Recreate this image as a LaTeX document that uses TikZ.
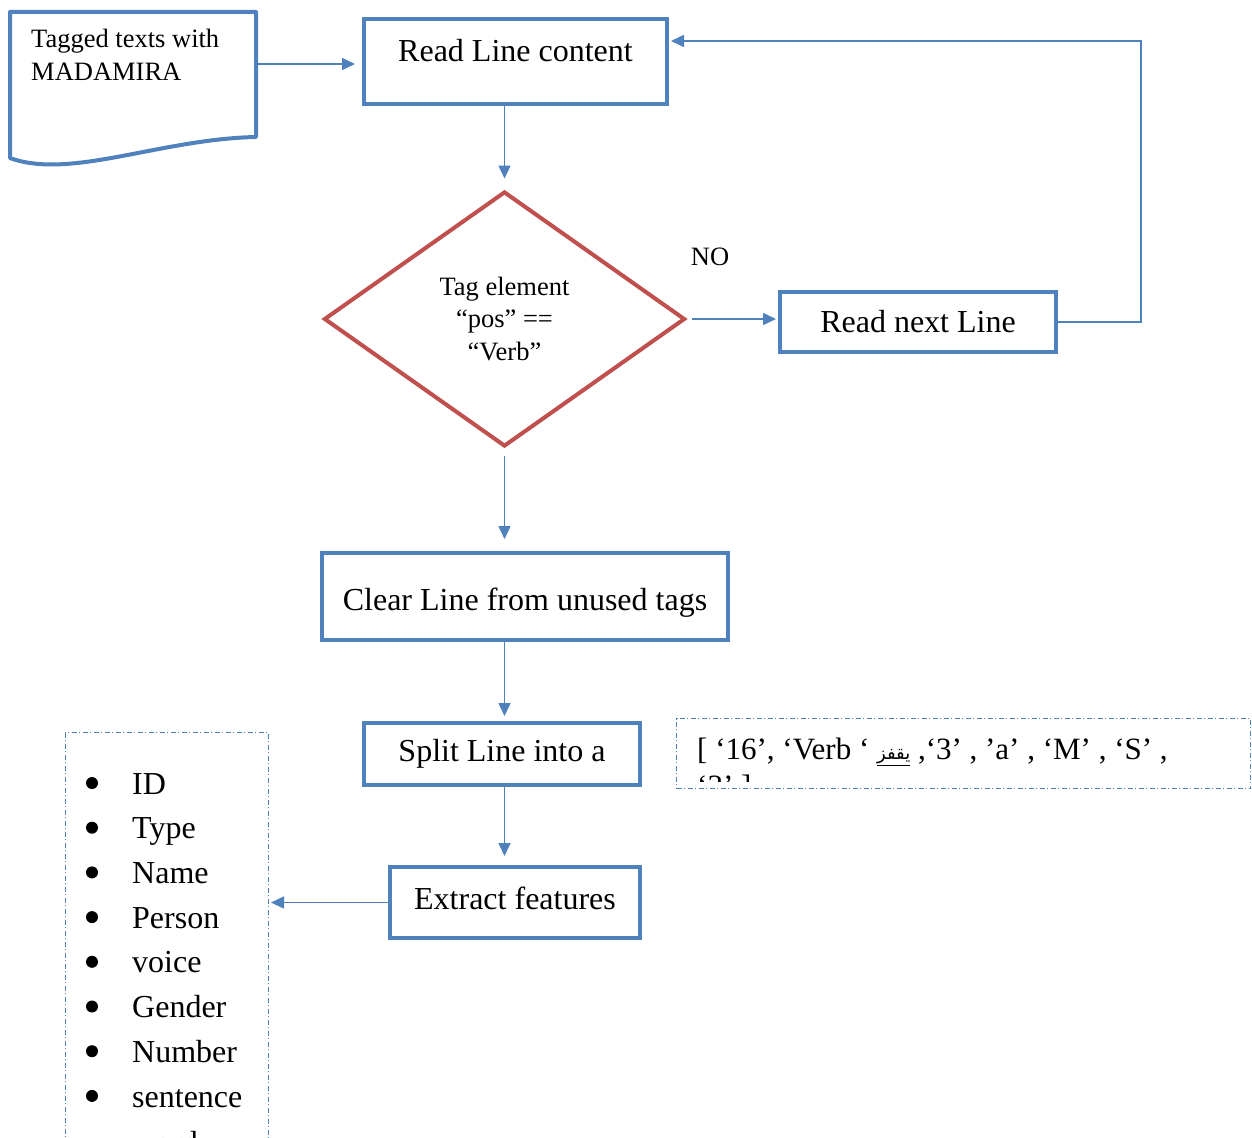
\documentclass[tikz,border=0pt]{standalone}
\usepackage{fontspec}
\setmainfont{Liberation Serif}
\newfontfamily\arabicfont[Script=Arabic]{DejaVu Sans}
\TeXXeTstate=1
\usetikzlibrary{shapes.geometric,arrows.meta}
\definecolor{flowblue}{HTML}{4F81BD}
\definecolor{flowred}{HTML}{C0504D}

\begin{document}
\begin{tikzpicture}[x=1pt,y=-1pt,
  bigtext/.style={font=\fontsize{32}{38}\selectfont},
  smalltext/.style={font=\fontsize{26.5}{32.5}\selectfont},
  procbox/.style={draw=flowblue, line width=4pt, rectangle, inner sep=0pt, bigtext},
  decision/.style={draw=flowred, line width=4pt, diamond, inner sep=0pt, smalltext, align=center},
  notebox/.style={draw=flowblue, line width=1pt, dash pattern=on 5pt off 2.5pt on 1pt off 2.5pt, inner sep=0pt},
  bulletdot/.style={circle, fill=black, inner sep=0pt, minimum size=12pt},
  tip/.style={-{Triangle[length=13pt,width=12pt]}},
  conn/.style={draw=flowblue, line width=1.6pt, tip},
]
\clip (0,0) rectangle (1252,1137);
\fill[white] (0,0) rectangle (1252,1137);

% input document with wavy lower edge
\draw[flowblue, line width=4pt, line join=round]
  (10,158) -- (10,12) -- (256,12) -- (256,137)
  .. controls (160,139) and (70,180) .. (10,158) -- cycle;
\node[smalltext, anchor=north west, align=left, inner sep=0pt] (source) at (31,29)
  {Tagged texts with\\MADAMIRA};
\coordinate (sourceout) at (258,64);

% process boxes
\node[procbox, minimum width=303pt, minimum height=85pt,
      label={[bigtext, yshift=11pt]center:Read Line content}] (readline) at (515.5,61.5) {};
\node[decision, minimum width=361pt, minimum height=255pt] (test) at (504.5,319)
  {Tag element\\“pos” ==\\“Verb”};
\node[procbox, minimum width=276pt, minimum height=60pt] (readnext) at (918,322) {Read next Line};
\node[smalltext] (nolabel) at (710,257) {NO};
\node[procbox, minimum width=406pt, minimum height=87pt,
      label={[bigtext, yshift=-6.5pt]center:Clear Line from unused tags}] (clear) at (525,596.5) {};
\node[procbox, minimum width=276pt, minimum height=62pt] (split) at (502,754) {Split Line into a};
\node[procbox, minimum width=250pt, minimum height=71pt,
      label={[bigtext, yshift=4.5pt]center:Extract features}] (extract) at (515,902.5) {};

% sample of a split line
\node[notebox, minimum width=574pt, minimum height=70pt] (sample) at (963.5,753.5) {};
\begin{scope}
  \clip (678,720) rectangle (1249,781);
  \node[font=\fontsize{31}{37}\selectfont, anchor=north west, align=left, inner sep=0pt] (sampletext) at (697,738)
    {[ ‘16’, ‘Verb ‘ \underline{\arabicfont\fontsize{18}{22}\selectfont\beginR يقفز\endR} ,‘3’ , ’a’ , ‘M’ , ‘S’ ,\\‘3’ ]};
\end{scope}

% list of extracted features
\node[notebox, anchor=north west, minimum width=203pt, minimum height=430pt] (features) at (65,732) {};
\foreach \feat [count=\i] in {ID,Type,Name,Person,voice,Gender,Number} {
  \node[bulletdot] (bullet\i) at (92,{783+44.7*(\i-1)}) {};
  \node[bigtext, anchor=base west, inner sep=0pt] (feat\i) at (132,{794+44.7*(\i-1)}) {\feat};
}
\node[bulletdot] (bullet8) at (92,{783+44.7*7}) {};
\node[font=\fontsize{32}{46}\selectfont, anchor=north west, align=left, inner sep=0pt] (feat8)
  at (132,{794+44.7*7-22}) {\rule{0pt}{22pt}sentence\\word};

% connectors
\draw[conn, shorten >=7pt] (sourceout) -- (sourceout -| readline.west);
\draw[conn, shorten >=11pt] (test.north |- readline.south) -- (test.north);
\draw[conn, shorten <=5pt, shorten >=2pt] (test.east) -- (test.east -| readnext.west);
\draw[conn, shorten >=2pt] (readnext.east) -- ++(83,0) |- ([yshift=20.5pt]readline.east);
\draw[conn, shorten <=7pt, shorten >=12pt] (test.south) -- (test.south |- clear.north);
\draw[conn, shorten >=5pt] (clear.south -| test.south) -- (split.north -| test.south);
\draw[conn, shorten >=9pt] (split.south -| test.south) -- (extract.north -| test.south);
\draw[conn, shorten >=2pt] (extract.west) -- (extract.west -| features.east);
\end{tikzpicture}
\end{document}
